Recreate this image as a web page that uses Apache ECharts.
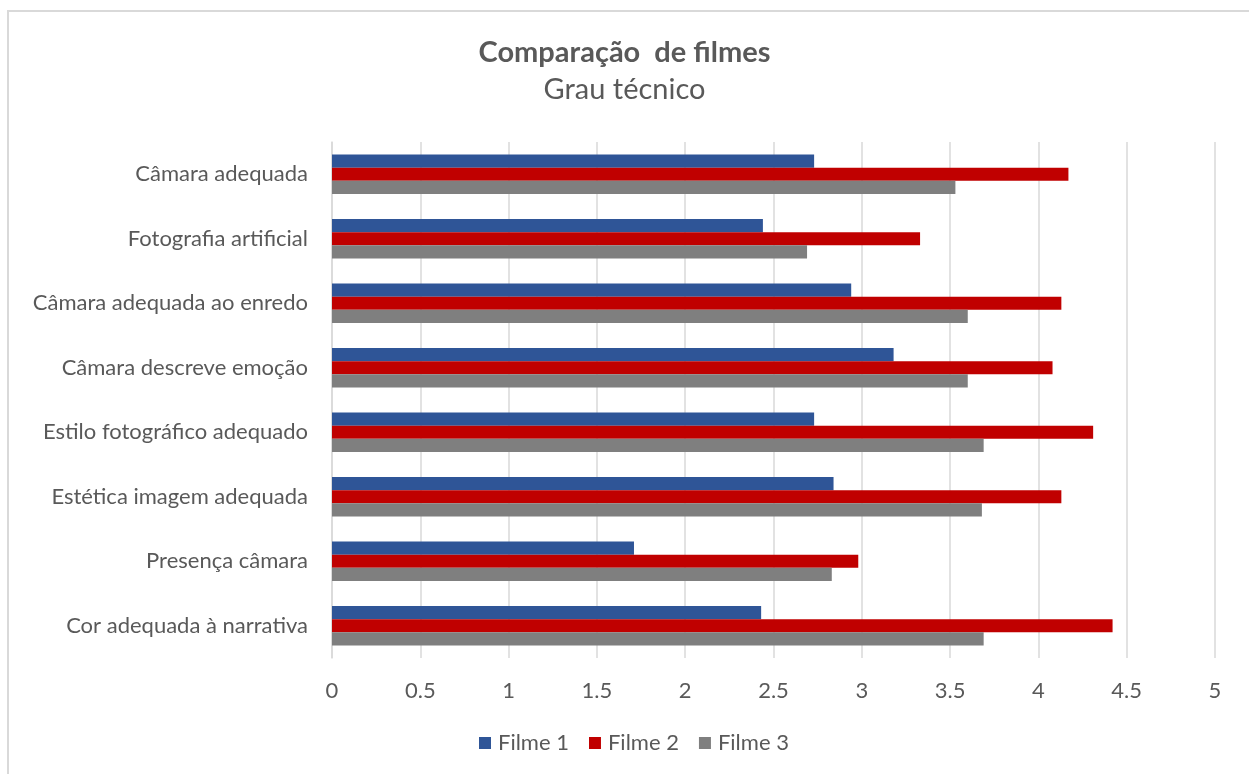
<!DOCTYPE html>
<html>
<head>
<meta charset="utf-8">
<script src="https://cdn.jsdelivr.net/npm/echarts@6/dist/echarts.min.js"></script>
<style>
html,body{margin:0;padding:0;background:#fff;}
#chart{width:1249px;height:774px;}
</style>
</head>
<body>
<div id="chart"></div>
<script>
// Categories listed top to bottom as in the picture
const categories = [
  "Câmara adequada",
  "Fotografia artificial",
  "Câmara adequada ao enredo",
  "Câmara descreve emoção",
  "Estilo fotográfico adequado",
  "Estética imagem adequada",
  "Presença câmara",
  "Cor adequada à narrativa"
];
const filme1 = [2.73, 2.44, 2.94, 3.18, 2.73, 2.84, 1.71, 2.43];
const filme2 = [4.17, 3.33, 4.13, 4.08, 4.31, 4.13, 2.98, 4.42];
const filme3 = [3.53, 2.69, 3.60, 3.60, 3.69, 3.68, 2.83, 3.69];
const seriesNames = ["Filme 1", "Filme 2", "Filme 3"];
const xTicks = { min: 0, max: 5, interval: 0.5 };

const colors = ["#2F5597", "#C00000", "#7F7F7F"];
const font = "Lato, 'Open Sans', sans-serif";

const chart = echarts.init(document.getElementById('chart'), null, {renderer: 'canvas'});
const seriesData = [filme1, filme2, filme3];
chart.setOption({
  animation: false,
  backgroundColor: '#fff',
  title: {
    text: 'Comparação  de filmes',
    subtext: 'Grau técnico',
    left: 'center',
    top: 33,
    itemGap: 8,
    textStyle: {fontFamily: font, fontSize: 29, fontWeight: 'bold', color: '#595959'},
    subtextStyle: {fontFamily: font, fontSize: 29, color: '#595959'}
  },
  legend: {
    bottom: 15,
    left: 474,
    itemWidth: 12,
    itemHeight: 12,
    itemGap: 20,
    icon: 'rect',
    textStyle: {fontFamily: font, fontSize: 22, color: '#595959', padding: [0, 0, 0, 2]},
    data: seriesNames
  },
  grid: {left: 332, right: 34, top: 142, bottom: 116, containLabel: false},
  xAxis: {
    type: 'value',
    min: xTicks.min, max: xTicks.max, interval: xTicks.interval,
    axisLine: {show: false},
    axisTick: {show: false},
    axisLabel: {fontFamily: font, fontSize: 22, color: '#595959', margin: 22},
    splitLine: {lineStyle: {color: '#D9D9D9', width: 1.5}}
  },
  yAxis: {
    type: 'category',
    inverse: true,
    data: categories,
    axisLine: {show: true, lineStyle: {color: '#D9D9D9', width: 1.5}},
    axisTick: {show: false},
    axisLabel: {fontFamily: font, fontSize: 22, color: '#595959', margin: 24}
  },
  series: seriesNames.map((n, i) => ({
    name: n,
    type: 'bar',
    data: seriesData[i],
    barGap: '0%',
    barCategoryGap: '39%',
    itemStyle: {color: colors[i]}
  })),
  graphic: [{
    type: 'rect',
    shape: {x: 8, y: 11, width: 1300, height: 800},
    style: {fill: 'none', stroke: '#D9D9D9', lineWidth: 2},
    silent: true,
    z: -1
  }]
});
</script>
</body>
</html>
